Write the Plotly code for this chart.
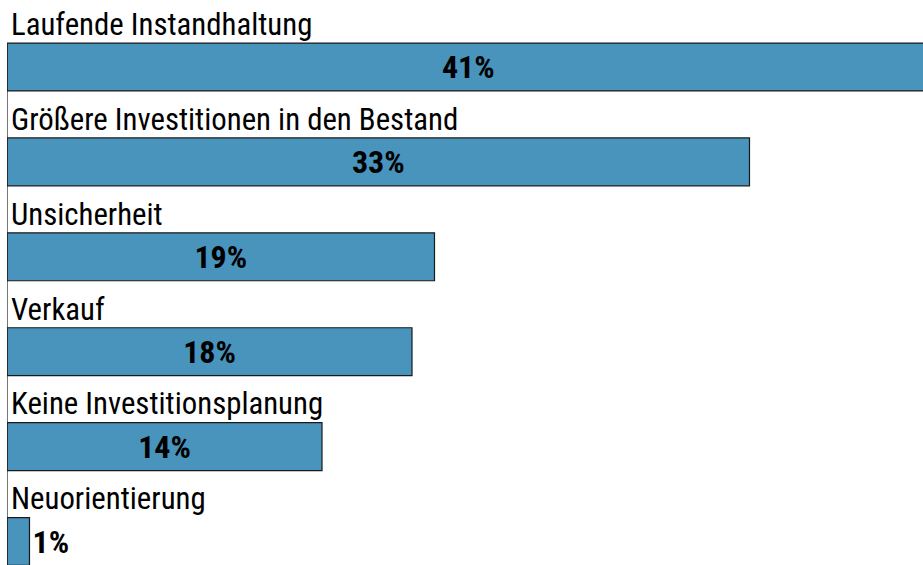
import plotly.graph_objects as go

categories = ["Laufende Instandhaltung", "Größere Investitionen in den Bestand",
              "Unsicherheit", "Verkauf", "Keine Investitionsplanung", "Neuorientierung"]
values = [41, 33, 19, 18, 14, 1]
value_labels = ["41%", "33%", "19%", "18%", "14%", "1%"]

FONT = "Roboto Condensed, Liberation Sans Narrow, Arial Narrow, sans-serif"
pos = list(range(len(categories)))

fig = go.Figure()
fig.add_trace(go.Bar(
    x=values, y=pos, orientation="h", width=0.505,
    marker=dict(color="#4894BD", line=dict(color="#1a1a1a", width=1.2)),
    text=value_labels, textposition="auto", insidetextanchor="middle",
    textfont=dict(family=FONT, size=32, color="black", weight="bold"),
    cliponaxis=True, hoverinfo="skip",
))

for i, c in enumerate(categories):
    fig.add_annotation(x=0, y=i - 0.45, xref="x", yref="y", text=c,
                       showarrow=False, xanchor="left", yanchor="middle", xshift=2,
                       font=dict(family=FONT, size=30.8, color="black"))

fig.add_shape(type="line", xref="x", yref="y", x0=0, x1=0, y0=-0.2525, y1=5.3,
              line=dict(color="#1a1a1a", width=1.2))

scale = 94.9
r0 = -67 / scale
r1 = r0 + 565 / scale
fig.update_layout(
    width=923, height=565, margin=dict(l=7, r=0, t=0, b=0),
    paper_bgcolor="white", plot_bgcolor="white", showlegend=False,
    xaxis=dict(range=[0, 916 / 22.5], visible=False, fixedrange=True),
    yaxis=dict(range=[r1, r0], visible=False, fixedrange=True),
)
fig.write_html("out.html", config={"displayModeBar": False},
               post_script="document.body.style.margin='0';")
